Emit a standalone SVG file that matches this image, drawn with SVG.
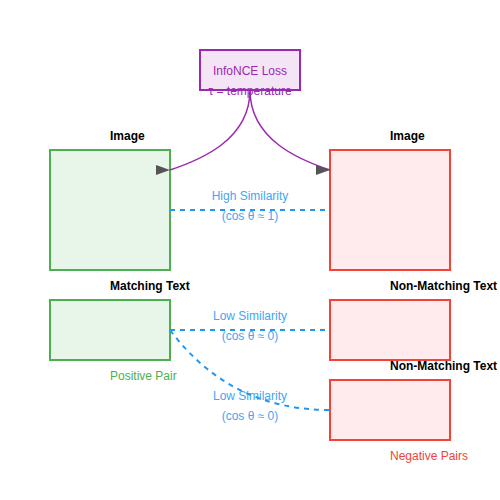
<svg xmlns="http://www.w3.org/2000/svg" width="500" height="500" viewBox="0 0 500 500">
<defs>
<style>
.pos{fill:#e8f5e9;stroke:#4caf50;stroke-width:2}
.neg{fill:#ffebee;stroke:#f44336;stroke-width:2}
.lbl{font-family:"Liberation Sans",Arial,sans-serif;font-size:12px;font-weight:bold;fill:#000}
.sim{font-family:"Liberation Sans",Arial,sans-serif;font-size:12px;fill:#2196f3;text-anchor:middle;opacity:0.85}
.dash{fill:none;stroke:#2196f3;stroke-width:2;stroke-dasharray:5,5}
.loss{fill:none;stroke:#9c27b0;stroke-width:1.5}
</style>
<marker id="arrR" viewBox="0 0 14 10" markerWidth="14" markerHeight="10" refX="14" refY="5" orient="0" markerUnits="userSpaceOnUse"><polygon points="0,0 14,5 0,10" fill="#555"/></marker>
</defs>
<g id="loss">
<rect x="200" y="50" width="100" height="40" fill="#f3e5f5" stroke="#9c27b0" stroke-width="2"/>
<text x="250" y="75" font-family="Liberation Sans,Arial,sans-serif" font-size="12" fill="#9c27b0" text-anchor="middle">InfoNCE Loss</text>
<text x="250" y="95" font-family="Liberation Sans,Arial,sans-serif" font-size="12" fill="#9c27b0" text-anchor="middle">τ = temperature</text>
</g>
<g id="pos-image">
<rect class="pos" x="50" y="150" width="120" height="120"/>
<text class="lbl" x="110" y="140">Image</text>
</g>
<g id="pos-text">
<rect class="pos" x="50" y="300" width="120" height="60"/>
<text class="lbl" x="110" y="290">Matching Text</text>
<text x="110" y="380" font-family="Liberation Sans,Arial,sans-serif" font-size="12" fill="#4caf50">Positive Pair</text>
</g>
<g id="neg-image">
<rect class="neg" x="330" y="150" width="120" height="120"/>
<text class="lbl" x="390" y="140">Image</text>
</g>
<g id="neg-text1">
<rect class="neg" x="330" y="300" width="120" height="60"/>
<text class="lbl" x="390" y="290">Non-Matching Text</text>
</g>
<g id="neg-text2">
<rect class="neg" x="330" y="380" width="120" height="60"/>
<text class="lbl" x="390" y="370">Non-Matching Text</text>
<text x="390" y="460" font-family="Liberation Sans,Arial,sans-serif" font-size="12" fill="#f44336">Negative Pairs</text>
</g>
<g id="connectors">
<path class="loss" d="M250,90 C250,140 200,160 170,170" marker-end="url(#arrR)"/>
<path class="loss" d="M250,90 C250,140 300,160 330,170" marker-end="url(#arrR)"/>
<line class="dash" x1="170" y1="210" x2="330" y2="210"/>
<line class="dash" x1="170" y1="330" x2="330" y2="330"/>
<path class="dash" d="M170,330 Q230,410 330,410"/>
<text class="sim" x="250" y="200">High Similarity</text>
<text class="sim" x="250" y="220">(cos θ ≈ 1)</text>
<text class="sim" x="250" y="320">Low Similarity</text>
<text class="sim" x="250" y="340">(cos θ ≈ 0)</text>
<text class="sim" x="250" y="400">Low Similarity</text>
<text class="sim" x="250" y="420">(cos θ ≈ 0)</text>
</g>
</svg>
